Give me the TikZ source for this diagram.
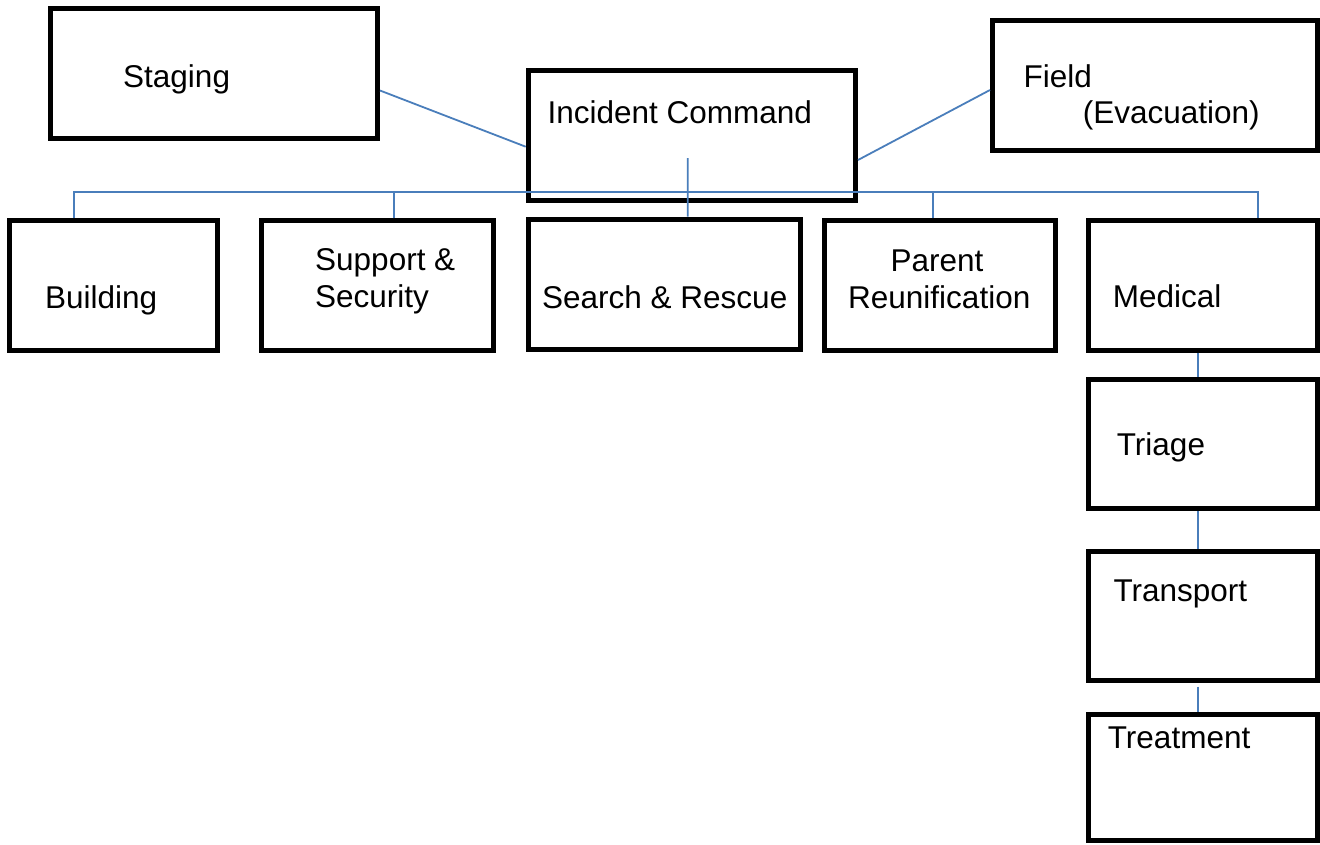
\documentclass[tikz,border=0pt]{standalone}
\usepackage{fontspec}
\setmainfont{Liberation Sans}
\usetikzlibrary{calc}
\definecolor{linkblue}{RGB}{74,126,187}
\tikzset{
  unit/.style={draw, rectangle, line width=5pt, inner sep=0pt,
    minimum height=130pt},
  lbl/.style={anchor=base west, inner sep=0pt,
    font=\fontsize{31.5}{37}\selectfont},
  link/.style={draw=linkblue, line width=1.8pt},
}

\begin{document}
\begin{tikzpicture}[x=1pt,y=-1pt]
  \useasboundingbox (0,0) rectangle (1320,844);

  % top row
  \node[unit, minimum width=327.3pt] (staging) at (213.85,73.5) {};
  \node[unit, minimum width=327.3pt] (command) at (691.85,135.5) {};
  \node[unit, minimum width=325pt] (field) at (1155,85.5) {};

  % sections
  \node[unit, minimum width=207.7pt] (building) at (113.65,285.2) {};
  \node[unit, minimum width=231.7pt] (support) at (377.35,285.8) {};
  \node[unit, minimum width=272pt] (rescue) at (664.2,284.1) {};
  \node[unit, minimum width=230.8pt] (parent) at (939.6,285.5) {};
  \node[unit, minimum width=229.3pt] (medical) at (1202.85,285) {};

  % medical branch
  \node[unit, minimum width=229.3pt, minimum height=129.3pt] (triage) at (1202.85,443.85) {};
  \node[unit, minimum width=229.3pt, minimum height=128.7pt] (transport) at (1202.85,615.85) {};
  \node[unit, minimum width=229.3pt, minimum height=126.3pt] (treatment) at (1202.85,777.35) {};

  % labels
  \node[lbl] (staginglbl) at (123,87) {Staging};
  \node[lbl] (commandlbl) at (547.3,123.3) {Incident Command};
  \node[lbl] (fieldlbl) at (1023.3,87.3) {Field};
  \node[lbl] (evaclbl) at (1082.7,123.3) {(Evacuation)};
  \node[lbl] (buildinglbl) at (45,308.3) {Building};
  \node[lbl] (supportlbl) at (315,270.7) {Support \&};
  \node[lbl] (securitylbl) at (315,307.7) {Security};
  \node[lbl] (rescuelbl) at (542,308) {Search \& Rescue};
  \node[lbl] (parentlbl) at (890.3,271) {Parent};
  \node[lbl] (reunionlbl) at (848,308) {Reunification};
  \node[lbl] (medicallbl) at (1112.7,307.7) {Medical};
  \node[lbl] (triagelbl) at (1116.7,455) {Triage};
  \node[lbl] (transportlbl) at (1113.3,601.7) {Transport};
  \node[lbl] (treatmentlbl) at (1107.7,748.3) {Treatment};

  % side links
  \draw[link] ($(staging.east)+(0,17)$) -- ($(command.west)+(0,11.2)$);
  \draw[link] ($(field.west)+(0,4.5)$) -- ($(command.east)+(0,24.5)$);

  % bus to the sections
  \coordinate (bus) at (0,191.7);
  \coordinate (cmdfoot) at ($(command.center)+(-4.15,22.5)$);
  \coordinate (buildingtop) at ($(building.north)+(-39.5,0)$);
  \coordinate (supporttop) at ($(support.north)+(17,0)$);
  \coordinate (rescuetop) at ($(rescue.north)+(23.5,0)$);
  \coordinate (parenttop) at ($(parent.north)+(-6.3,0)$);
  \coordinate (medicaltop) at ($(medical.north)+(55.5,0)$);

  \draw[link] (buildingtop) -- (buildingtop |- bus) -- (medicaltop |- bus) -- (medicaltop);
  \foreach \t in {supporttop,parenttop} \draw[link] (\t) -- (\t |- bus);
  \draw[link] (cmdfoot) -- (rescuetop);

  % medical chain
  \draw[link] ($(medical.south)+(-5,0)$) -- ($(triage.north)+(-5,0)$);
  \draw[link] ($(triage.south)+(-5,0)$) -- ($(transport.north)+(-5,0)$);
  \draw[link, shorten <=4pt] ($(transport.south)+(-5,0)$) -- ($(treatment.north)+(-5,0)$);
\end{tikzpicture}
\end{document}
